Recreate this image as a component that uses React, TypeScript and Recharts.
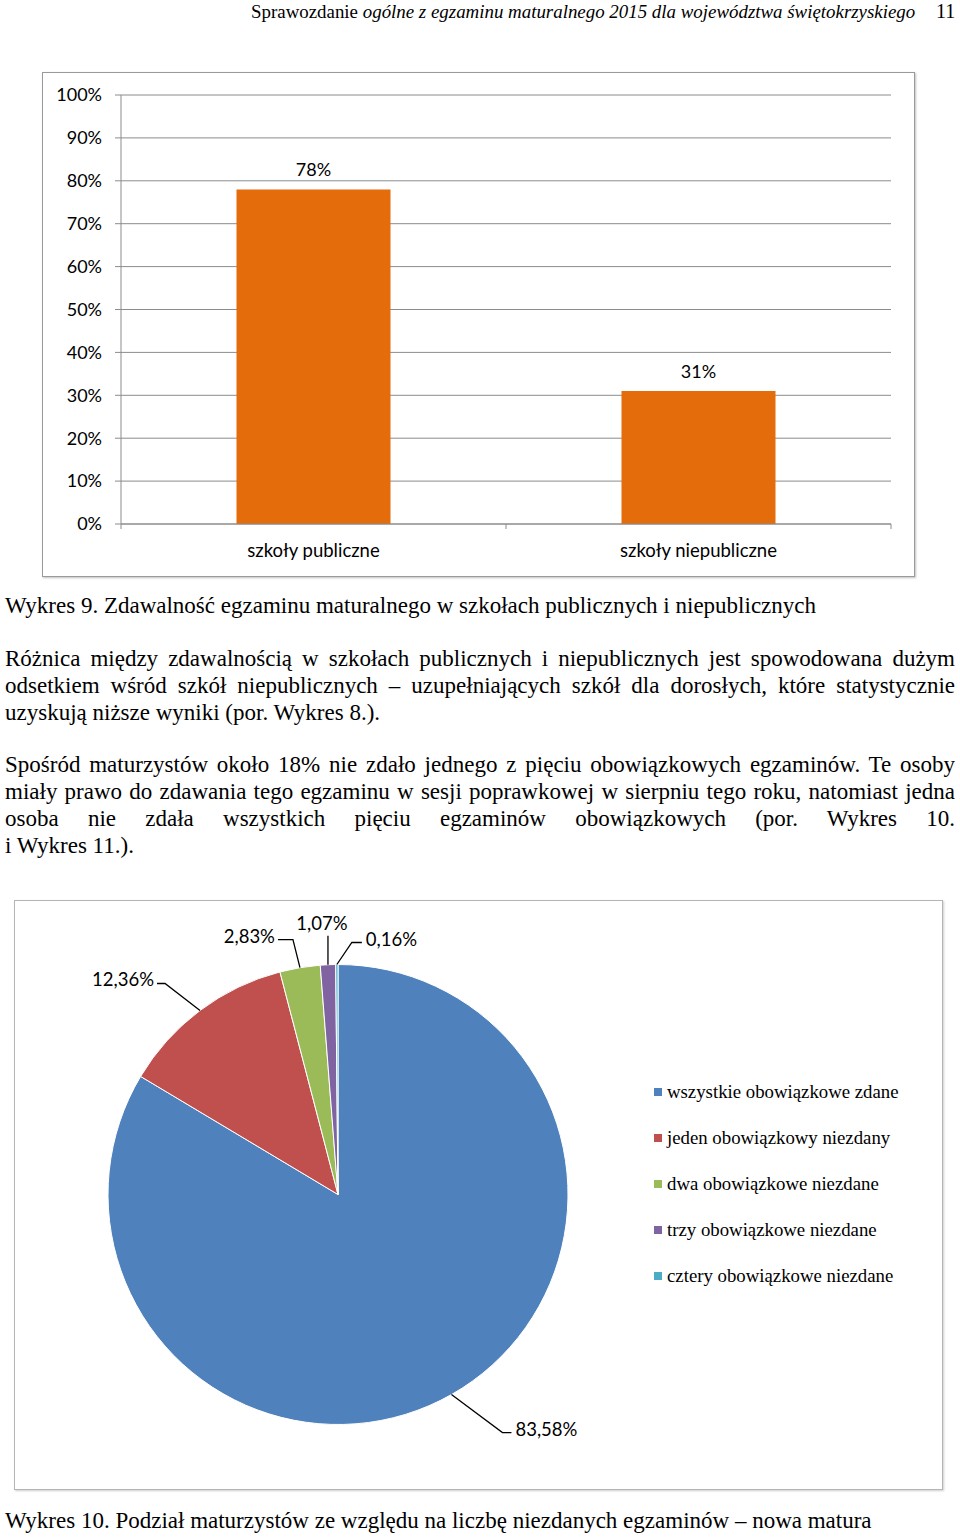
import React from 'react';
import {
  BarChart,
  Bar,
  XAxis,
  YAxis,
  CartesianGrid,
  LabelList,
  PieChart,
  Pie,
  Cell,
  Legend,
} from 'recharts';

// Wykres 9 – zdawalność
const SCHOOL_TYPES = ['szkoły publiczne', 'szkoły niepubliczne'];
const PASS_RATES = [0.78, 0.31];
const PERCENT_TICKS = [0, 0.1, 0.2, 0.3, 0.4, 0.5, 0.6, 0.7, 0.8, 0.9, 1];

// Wykres 10 – liczba niezdanych egzaminów
const RESULT_GROUPS = [
  'wszystkie obowiązkowe zdane',
  'jeden obowiązkowy niezdany',
  'dwa obowiązkowe niezdane',
  'trzy obowiązkowe niezdane',
  'cztery obowiązkowe niezdane',
];
const RESULT_SHARES = [83.58, 12.36, 2.83, 1.07, 0.16];
const RESULT_COLORS = ['#4f81bd', '#c0504d', '#9bbb59', '#8064a2', '#4bacc6'];

// leader line shape per slice (elbow offset from the arc, then horizontal run)
const LEADERS = [
  { dx: 51, dy: 38, h: 9 },
  { dx: -35, dy: -27, h: -8 },
  { dx: -7, dy: -28, h: -15 },
  { dx: 0, dy: -29, h: 0 },
  { dx: 15, dy: -22, h: 10 },
];

const SANS = 'Lato, "Open Sans", sans-serif';
const SERIF = '"Liberation Serif", "DejaVu Serif", serif';
const GRID = '#8c8c8c';
const TXT = 23;

const barData = SCHOOL_TYPES.map((name, i) => ({ name, value: PASS_RATES[i] }));
const pieData = RESULT_GROUPS.map((name, i) => ({ name, value: RESULT_SHARES[i] }));

const pct = (v: number) => `${Math.round(v * 100)}%`;
const plFmt = (v: number) => `${v.toFixed(2).replace('.', ',')}%`;

const BAR_W = 873;
const BAR_H = 505;
const BAR_MARGIN = { top: 23, right: 24, left: 0, bottom: 0 };
const Y_AXIS_W = 79;
const PLOT_W = BAR_W - Y_AXIS_W - BAR_MARGIN.right;

function CategoryTick(props: any) {
  const { x, y, payload, index } = props;
  const band = PLOT_W / SCHOOL_TYPES.length;
  const left = x - band / 2;
  return (
    <g>
      <line x1={left} y1={y - 8} x2={left} y2={y - 3} stroke={GRID} />
      {index === SCHOOL_TYPES.length - 1 && (
        <line x1={left + band} y1={y - 8} x2={left + band} y2={y - 3} stroke={GRID} />
      )}
      <text x={x} y={y + 25} textAnchor="middle" fill="#000" fontSize={18.5} fontFamily={SANS}>
        {payload.value}
      </text>
    </g>
  );
}

function PieLabel(props: any) {
  const { cx, cy, midAngle, outerRadius, index, value } = props;
  const RAD = Math.PI / 180;
  const x0 = cx + outerRadius * Math.cos(-midAngle * RAD);
  const y0 = cy + outerRadius * Math.sin(-midAngle * RAD);
  const l = LEADERS[index];
  const x1 = x0 + l.dx;
  const y1 = y0 + l.dy;
  const x2 = x1 + l.h;
  let tx = x2;
  let ty = y1 - 4;
  let anchor: 'start' | 'end' | 'middle' = 'middle';
  if (l.h > 0) {
    tx = x2 + 4;
    anchor = 'start';
  } else if (l.h < 0) {
    tx = x2 - 3;
    anchor = 'end';
  } else {
    tx = x1 - 6;
    ty = y1 - 13;
  }
  return (
    <g>
      <polyline points={`${x0},${y0} ${x1},${y1} ${x2},${y1}`} fill="none" stroke="#000" strokeWidth={1.3} />
      <text x={tx} y={ty} textAnchor={anchor} dominantBaseline="central" fill="#000" fontSize={18.5} fontFamily={SANS}>
        {plFmt(value)}
      </text>
    </g>
  );
}

function PieLegend(props: any) {
  const items = [...(props.payload || [])].sort(
    (a: any, b: any) => RESULT_GROUPS.indexOf(a.value) - RESULT_GROUPS.indexOf(b.value)
  );
  return (
    <div>
      {items.map((p: any, i: number) => (
        <div key={i} style={{ height: 46, display: 'flex', alignItems: 'center', fontFamily: SERIF, fontSize: 18.8, color: '#000', whiteSpace: 'nowrap' }}>
          <span style={{ width: 8, height: 8, background: p.color, marginRight: 5, display: 'inline-block' }} />
          {p.value}
        </div>
      ))}
    </div>
  );
}

const textLine = (top: number, text: string, justify: boolean) => (
  <div
    style={{
      position: 'absolute',
      left: 5,
      top,
      width: 950,
      height: 27,
      lineHeight: '27px',
      fontFamily: SERIF,
      fontSize: TXT,
      whiteSpace: 'nowrap',
      textAlign: justify ? 'justify' : 'left',
      textAlignLast: justify ? 'justify' : 'left',
    }}
  >
    {text}
  </div>
);

export default function App() {
  return (
    <div style={{ position: 'absolute', left: 0, top: 0, width: 960, height: 1537, background: '#fff', color: '#000', overflow: 'hidden' }}>
      {/* running header */}
      <div style={{ position: 'absolute', left: 251, top: -2, lineHeight: '27px', fontFamily: SERIF, fontSize: 18.9, whiteSpace: 'nowrap' }}>
        Sprawozdanie <i>ogólne z egzaminu maturalnego 2015 dla województwa świętokrzyskiego</i>
      </div>
      <div style={{ position: 'absolute', left: 936, top: -2, lineHeight: '27px', fontFamily: SERIF, fontSize: 20 }}>11</div>

      {/* Wykres 9 */}
      <div style={{ position: 'absolute', left: 42, top: 72, width: BAR_W, height: BAR_H, border: '1px solid #9a9a9a', boxShadow: '1px 1px 2px rgba(0,0,0,0.25)', boxSizing: 'border-box' }}>
        <div style={{ position: 'absolute', left: -1, top: -1 }}>
          <BarChart width={BAR_W} height={BAR_H} data={barData} margin={BAR_MARGIN} barCategoryGap="30%">
            <CartesianGrid vertical={false} stroke={GRID} strokeWidth={1} />
            <YAxis
              width={Y_AXIS_W}
              domain={[0, 1]}
              ticks={PERCENT_TICKS}
              interval={0}
              tickFormatter={pct}
              stroke={GRID}
              tickSize={6}
              tickMargin={13}
              tick={{ fill: '#000', fontSize: 18, fontFamily: SANS }}
            />
            <XAxis dataKey="name" height={53} stroke={GRID} tickLine={false} tick={<CategoryTick />} interval={0} />
            <Bar dataKey="value" fill="#e46c0a" isAnimationActive={false}>
              <LabelList dataKey="value" position="top" offset={13} formatter={(v: any) => pct(Number(v))} fill="#000" fontSize={18} fontFamily={SANS} />
            </Bar>
          </BarChart>
        </div>
      </div>

      <div style={{ position: 'absolute', left: 5, top: 592, lineHeight: '27px', fontFamily: SERIF, fontSize: TXT, whiteSpace: 'nowrap' }}>
        Wykres 9. Zdawalność egzaminu maturalnego w szkołach publicznych i niepublicznych
      </div>

      {textLine(645, 'Różnica między zdawalnością w szkołach publicznych i niepublicznych jest spowodowana dużym', true)}
      {textLine(672, 'odsetkiem wśród szkół niepublicznych – uzupełniających szkół dla dorosłych, które statystycznie', true)}
      {textLine(699, 'uzyskują niższe wyniki (por. Wykres 8.).', false)}

      {textLine(751, 'Spośród maturzystów około 18% nie zdało jednego z pięciu obowiązkowych egzaminów. Te osoby', true)}
      {textLine(778, 'miały prawo do zdawania tego egzaminu w sesji poprawkowej w sierpniu tego roku, natomiast jedna', true)}
      {textLine(805, 'osoba nie zdała wszystkich pięciu egzaminów obowiązkowych (por. Wykres 10.', true)}
      {textLine(832, 'i Wykres 11.).', false)}

      {/* Wykres 10 */}
      <div style={{ position: 'absolute', left: 14, top: 900, width: 929, height: 590, border: '1px solid #b5b5b5', boxShadow: '1px 1px 2px rgba(0,0,0,0.2)', boxSizing: 'border-box' }}>
        <div style={{ position: 'absolute', left: -1, top: -1 }}>
          <PieChart width={929} height={590} margin={{ top: 0, right: 0, bottom: 0, left: 0 }}>
            <Pie
              data={pieData}
              dataKey="value"
              nameKey="name"
              cx={324}
              cy={294.5}
              outerRadius={230}
              startAngle={90}
              endAngle={-270}
              stroke="#fff"
              strokeWidth={1}
              label={PieLabel}
              labelLine={false}
              isAnimationActive={false}
            >
              {pieData.map((_, i) => (
                <Cell key={i} fill={RESULT_COLORS[i]} />
              ))}
            </Pie>
            <Legend content={PieLegend} wrapperStyle={{ position: 'absolute', left: 640, top: 169, width: 290, bottom: 'auto' }} />
          </PieChart>
        </div>
      </div>

      <div style={{ position: 'absolute', left: 5, top: 1507, lineHeight: '27px', fontFamily: SERIF, fontSize: TXT, whiteSpace: 'nowrap' }}>
        Wykres 10. Podział maturzystów ze względu na liczbę niezdanych egzaminów – nowa matura
      </div>
    </div>
  );
}
